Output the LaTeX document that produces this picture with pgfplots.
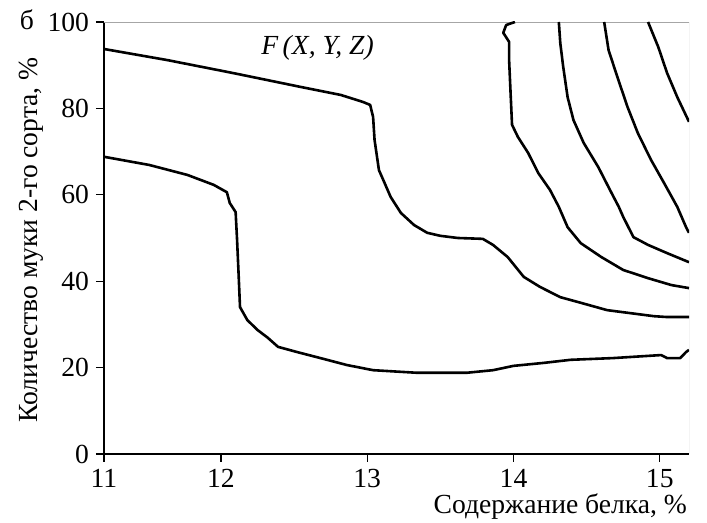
\documentclass[border=0pt]{standalone}
\usepackage{fontspec}
\setmainfont{Liberation Serif}
\usepackage{pgfplots}
\pgfplotsset{compat=1.18}
\newcommand\fs{\fontsize{13.8}{16.5}\selectfont}

\begin{document}
\begin{tikzpicture}[font=\fs]
\begin{axis}[
  at={(0,0)}, anchor=south west,
  scale only axis, width=292.5pt, height=216pt,
  xmin=11.2, xmax=15.2, ymin=0, ymax=100,
  axis x line*=bottom, axis y line*=left,
  axis line style={black, line width=0.6pt},
  xtick={11.2,12,13,14,15}, xticklabels={11,12,13,14,15},
  ytick={0,20,...,100},
  tick align=outside, major tick length=4pt,
  tick style={black, line width=0.6pt},
  ticklabel style={font=\fs},
  /pgf/number format/assume math mode=true,
  cont/.style={black, solid, line width=1.3pt, line join=round, mark=none},
]
\draw[gray!70, line width=0.4pt] (rel axis cs:0,1) -- (rel axis cs:1,1) -- (rel axis cs:1,0);

% lowest contour
\addplot[cont] coordinates {
(11.20,68.8) (11.51,66.9) (11.77,64.6) (11.95,62.3) (12.04,60.6) (12.06,58.1)
(12.10,56.0) (12.11,49.5) (12.12,41.9) (12.13,34.0) (12.18,31.0) (12.25,28.7)
(12.32,26.9) (12.39,24.8) (12.52,23.6) (12.68,22.2) (12.86,20.6) (13.04,19.4)
(13.34,18.8) (13.68,18.8) (13.86,19.4) (14.00,20.4) (14.21,21.1) (14.39,21.8)
(14.68,22.2) (15.01,22.9) (15.05,22.2) (15.14,22.2) (15.18,23.6) (15.20,24.1)
};
% second contour
\addplot[cont] coordinates {
(11.20,93.75) (11.63,91.2) (12.08,88.2) (12.54,85.0) (12.82,83.1) (12.97,81.5)
(13.02,80.8) (13.04,78.0) (13.05,72.7) (13.08,65.7) (13.11,63.4) (13.16,59.5)
(13.23,55.8) (13.32,53.0) (13.41,51.2) (13.50,50.5) (13.62,50.0) (13.79,49.8)
(13.86,48.4) (13.96,45.6) (14.07,41.0) (14.18,38.7) (14.32,36.3) (14.46,35.0)
(14.64,33.3) (14.80,32.6) (14.96,31.9) (15.05,31.7) (15.20,31.7)
};
% third contour
\addplot[cont] coordinates {
(14.01,100) (13.95,99.3) (13.93,97.5) (13.97,95.4) (13.97,91.2) (13.98,83.6)
(13.99,76.2) (14.03,73.4) (14.10,69.7) (14.17,65.0) (14.25,61.1) (14.31,57.2)
(14.37,52.5) (14.46,48.8) (14.60,45.6) (14.75,42.6) (14.92,40.7) (15.08,39.1)
(15.20,38.4)
};
% fourth contour
\addplot[cont] coordinates {
(14.31,100) (14.32,95.1) (14.34,89.6) (14.37,82.6) (14.41,77.3) (14.48,72.0)
(14.58,66.4) (14.66,61.1) (14.72,57.2) (14.75,54.9) (14.82,50.2) (14.92,48.4)
(15.05,46.5) (15.20,44.4)
};
% fifth contour
\addplot[cont] coordinates {
(14.62,100) (14.65,93.5) (14.71,87.3) (14.78,80.3) (14.85,74.3) (14.94,68.1)
(15.03,62.7) (15.12,57.2) (15.18,52.5) (15.20,51.2)
};
% sixth contour
\addplot[cont] coordinates {
(14.92,100) (14.99,94.2) (15.05,88.2) (15.12,82.6) (15.20,76.9)
};
\end{axis}

\node[anchor=base] at (-38.5pt,212pt) {б};
\node[anchor=base] at (106.75pt,199.5pt) {\textit{F\,(X, Y, Z)}};
\node[rotate=90, anchor=base] at (-33.5pt,107pt) {Количество муки 2-го сорта, \%};
\node[anchor=base east] at (295pt,-30pt) {Содержание белка, \%};

\pgfresetboundingbox
\path (-52pt,-34.5pt) rectangle (301.5pt,227pt);
\end{tikzpicture}
\end{document}
